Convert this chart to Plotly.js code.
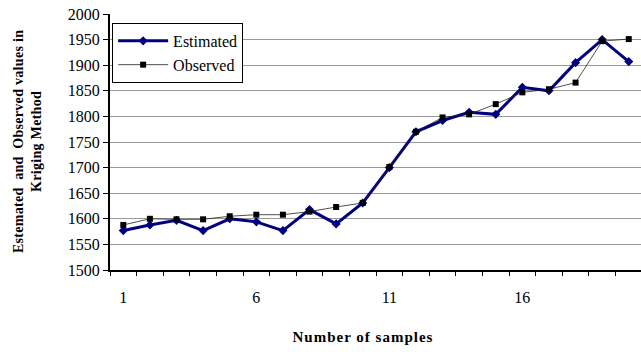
<!DOCTYPE html>
<html>
<head>
<meta charset="utf-8">
<script src="https://cdn.plot.ly/plotly-3.0.1.min.js"></script>
<style>
  html, body { margin: 0; padding: 0; background: #fff; }
  #chart { width: 641px; height: 352px; }
  .annotation[data-index="0"] text { letter-spacing: 1px; }
  .annotation[data-index="1"] text { letter-spacing: 0.3px; }
</style>
</head>
<body>
<div id="chart"></div>
<script>
const samples = [1,2,3,4,5,6,7,8,9,10,11,12,13,14,15,16,17,18,19,20];
const estimated = [1577,1588,1597,1577,1600,1594,1577,1618,1590,1631,1700,1770,1792,1808,1804,1857,1850,1905,1950,1907];
const observed  = [1588,1600,1599,1599,1605,1608,1608,1614,1623,1631,1701,1770,1798,1804,1824,1847,1853,1866,1947,1951];
const xTickVals = [1, 6, 11, 16];
const xTickText = ['1', '6', '11', '16'];
const legendNames = ['Estimated', 'Observed'];
const xTitle = 'Number of samples';
const yTitle = 'Estemated  and  Observed values in<br>Kriging Method';

const serif = 'Liberation Serif';

const traces = [
  {
    x: samples, y: estimated, name: legendNames[0], type: 'scatter', mode: 'lines+markers',
    line: {color: '#000080', width: 3},
    marker: {symbol: 'diamond', size: 7, color: '#000080'}
  },
  {
    x: samples, y: observed, name: legendNames[1], type: 'scatter', mode: 'lines+markers',
    line: {color: '#222222', width: 0.8},
    marker: {symbol: 'square', size: 6, color: '#000000'}
  }
];

const layout = {
  width: 641, height: 352,
  margin: {l: 110, r: 0, t: 14, b: 82, pad: 0},
  paper_bgcolor: '#ffffff', plot_bgcolor: '#ffffff',
  showlegend: true,
  font: {family: serif, color: '#000', size: 16},
  xaxis: {
    range: [0.5, 20.46],
    tickmode: 'array', tickvals: xTickVals, ticktext: xTickText,
    ticks: '', showgrid: false, zeroline: false,
    showline: true, linecolor: '#000', linewidth: 2,
    ticklabelstandoff: 12,
    tickfont: {family: serif, size: 16, color: '#000'},
    minor: {tick0: 0.5, dtick: 1, ticks: 'outside', ticklen: 4, tickwidth: 1, tickcolor: '#000', showgrid: false}
  },
  yaxis: {
    range: [1500, 2000], dtick: 50, tick0: 1500,
    ticks: 'outside', ticklen: 5, tickwidth: 1, tickcolor: '#000',
    showgrid: true, gridcolor: '#999999', gridwidth: 1,
    zeroline: false, showline: true, linecolor: '#000', linewidth: 2,
    tickfont: {family: serif, size: 16, color: '#000'}
  },
  legend: {
    x: 0.004, y: 0.965, xanchor: 'left', yanchor: 'top',
    bgcolor: '#fff', bordercolor: '#000', borderwidth: 1,
    font: {family: serif, size: 16, color: '#000'},
    tracegroupgap: 0, itemwidth: 50
  },
  annotations: [
    {text: '<b>' + xTitle + '</b>', xref: 'paper', yref: 'paper', x: (363-110)/531, y: -(336-269.5)/255.5,
     xanchor: 'center', yanchor: 'middle', showarrow: false, font: {family: serif, size: 15, color: '#000'}},
    {text: '<b>' + yTitle + '</b>', xref: 'paper', yref: 'paper', x: -(110-27)/531, y: 0.5,
     xanchor: 'center', yanchor: 'middle', textangle: -90, showarrow: false,
     font: {family: serif, size: 14, color: '#000'}}
  ]
};

Plotly.newPlot('chart', traces, layout, {displayModeBar: false, staticPlot: true});
</script>
</body>
</html>
